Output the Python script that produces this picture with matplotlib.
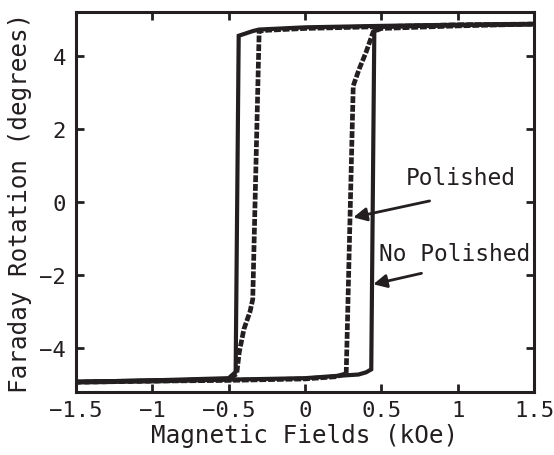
import matplotlib
matplotlib.use("Agg")
import matplotlib.pyplot as plt

# ---------------------------
# DATA
# ---------------------------
# No Polished (solid)
np_down_field = [1.5, 1.0, 0.5, 0.0, -0.3, -0.34, -0.434, -0.454, -0.5, -1.0, -1.5]
np_down_rot = [4.87, 4.85, 4.82, 4.78, 4.72, 4.68, 4.55, -4.65, -4.82, -4.88, -4.92]
np_up_field = [-1.5, -1.0, -0.5, 0.0, 0.2, 0.35, 0.40, 0.434, 0.454, 0.5, 1.0, 1.5]
np_up_rot = [-4.92, -4.88, -4.86, -4.82, -4.76, -4.72, -4.66, -4.58, 4.66, 4.8, 4.84, 4.87]

# Polished (dashed)
p_down_field = [1.5, 1.0, 0.5, 0.0, -0.25, -0.30, -0.342, -0.36, -0.40, -0.43, -0.447, -0.5, -1.0, -1.5]
p_down_rot = [4.87, 4.85, 4.8, 4.75, 4.7, 4.68, -2.66, -3.0, -3.48, -4.1, -4.7, -4.85, -4.9, -4.93]
p_up_field = [-1.5, -1.0, -0.5, 0.0, 0.2, 0.27, 0.316, 0.355, 0.40, 0.447, 0.5, 1.0, 1.5]
p_up_rot = [-4.93, -4.9, -4.88, -4.84, -4.78, -4.7, 3.18, 3.64, 4.1, 4.66, 4.75, 4.82, 4.87]

x_ticks = [-1.5, -1, -0.5, 0, 0.5, 1, 1.5]
x_tick_labels = ["−1.5", "−1", "−0.5", "0", "0.5", "1", "1.5"]
y_ticks = [-4, -2, 0, 2, 4]
y_tick_labels = ["−4", "−2", "0", "2", "4"]

INK = "#231f20"
FONT = "DejaVu Sans Mono"

plt.rcParams["font.family"] = [FONT, "DejaVu Sans"]

fig = plt.figure(figsize=(5.54, 4.56), dpi=100)
ax = fig.add_axes([0.137, 0.138, 0.827, 0.8335])

# ---------------------------
# CURVES
# ---------------------------
ax.plot(np_down_field, np_down_rot, color=INK, lw=3.0, solid_joinstyle="miter")
ax.plot(np_up_field, np_up_rot, color=INK, lw=3.0, solid_joinstyle="miter")
ax.plot(p_down_field, p_down_rot, color=INK, lw=3.4, dashes=(1.45, 0.4), dash_capstyle="butt")
ax.plot(p_up_field, p_up_rot, color=INK, lw=3.4, dashes=(1.45, 0.4), dash_capstyle="butt")

# ---------------------------
# AXES
# ---------------------------
ax.set_xlim(-1.5, 1.5)
ax.set_ylim(-5.2, 5.2)
ax.set_xticks(x_ticks)
ax.set_xticklabels(x_tick_labels)
ax.set_yticks(y_ticks)
ax.set_yticklabels(y_tick_labels)

for s in ax.spines.values():
    s.set_linewidth(2.2)
    s.set_color(INK)

ax.tick_params(direction="in", length=6, width=2, color=INK,
               top=True, right=True, labelsize=16, labelcolor=INK)
ax.tick_params(axis="x", pad=6)
ax.tick_params(axis="y", pad=7)

ax.set_xlabel("Magnetic Fields (kOe)", fontsize=17.5, color=INK, labelpad=2)
ax.set_ylabel("Faraday Rotation (degrees)", fontsize=17.5, color=INK, labelpad=5)

# ---------------------------
# ANNOTATIONS
# ---------------------------
arrow = dict(arrowstyle="-|>", color=INK, lw=2, mutation_scale=20, shrinkA=0, shrinkB=0)
ax.text(0.66, 0.68, "Polished", fontsize=16.5, color=INK, va="center", ha="left")
ax.annotate("", xy=(0.316, -0.42), xytext=(0.816, 0.03), arrowprops=arrow)
ax.text(0.487, -1.42, "No Polished", fontsize=16.5, color=INK, va="center", ha="left")
ax.annotate("", xy=(0.447, -2.25), xytext=(0.763, -1.95), arrowprops=arrow)

fig.savefig("out.png", dpi=100)
